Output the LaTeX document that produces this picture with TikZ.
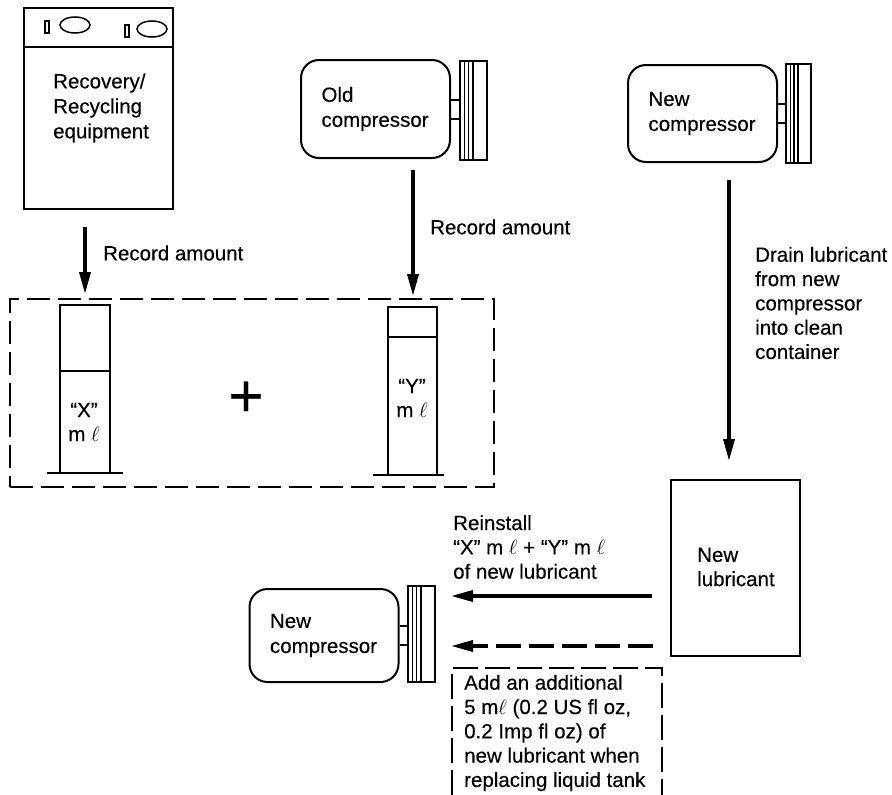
\documentclass[tikz,border=0pt]{standalone}
\usepackage{fontspec}
\setmainfont[FakeBold=0.3]{Liberation Sans}
\usetikzlibrary{arrows.meta,positioning,calc,shapes.geometric}

\begin{document}
\begin{tikzpicture}[
    x=1pt, y=-1pt,
    lbl/.style={anchor=west, align=left, inner sep=0pt, font=\fontsize{20.5}{24.3}\selectfont},
    box/.style={draw, line width=2pt, inner sep=0pt},
    comp/.style={box, rounded corners=18pt, text width=108pt, align=left, minimum width=149pt, font=\fontsize{20.5}{25}\selectfont},
    clutch/.style={box, minimum width=27pt, minimum height=99pt},
    cyl/.style={box, minimum width=50pt, minimum height=168pt},
    dial/.style={draw, line width=1.5pt, ellipse, inner sep=0pt, minimum width=30pt, minimum height=16pt},
    gauge/.style={draw, line width=2pt, inner sep=0pt, minimum width=4pt, minimum height=12pt},
    arr/.style={-{Triangle[length=22pt,width=11pt]}, line width=3.5pt},
    dasharr/.style={arr, dash pattern=on 25pt off 8pt},
    part/.style={draw, line width=1.5pt, dash pattern=on 23pt off 8pt}
]
\useasboundingbox (0,0) rectangle (892,795);
% top row
\node[box, minimum width=149pt, minimum height=201pt] (equip) at (98.5,108.5) {};
\draw[line width=2pt] (equip.west |- 0,47) -- (equip.east |- 0,47);
\node[gauge] (gauge1) at (47,27) {};
\node[dial] (dial1) at (75,25) {};
\node[gauge] (gauge2) at (127,31) {};
\node[dial] (dial2) at (152,29) {};
\node[lbl, font=\fontsize{20.5}{25}\selectfont] (equiptext) at (53,108) {Recovery/\\Recycling\\equipment};
\node[comp, minimum height=98pt] (oldcomp) at (375.5,109) {Old\\compressor};
\node[clutch] (oldclutch) at (473.5,110) {};
\node[comp, minimum height=97pt] (newcomp) at (702.5,113.5) {New\\compressor};
\node[clutch, minimum width=25pt] (newclutch) at (798.5,113.5) {};
% measuring cylinders
\node[part, minimum width=484pt, minimum height=188pt] (group) at (252,393) {};
\node[cyl] (xcyl) at (85,389) {};
\node[cyl, minimum width=49pt] (ycyl) at (412,391) {};
\coordinate (xbase) at (47,473);
\coordinate (ybase) at (373,475);
\draw[line width=2pt] (xbase) -- (123,473);
\draw[line width=2pt] (ybase) -- (444,475);
\draw[line width=2pt] (xcyl.west |- 0,371) -- (xcyl.east |- 0,371);
\draw[line width=2pt] (ycyl.west |- 0,337) -- (ycyl.east |- 0,337);
\node[align=center, inner sep=0pt, font=\fontsize{20.5}{24}\selectfont] (xtext) at (84,422) {“X”\\m $\ell$};
\node[align=center, inner sep=0pt, font=\fontsize{20.5}{24}\selectfont] (ytext) at (412,398) {“Y”\\m $\ell$};
\node[inner sep=0pt, font=\fontsize{60}{60}\selectfont] (plus) at (246,399) {+};
% lubricant and refill
\node[box, minimum width=129pt, minimum height=176pt] (newlub) at (735,568) {};
\node[lbl] (lubtext) at (697,567) {New\\lubricant};
\node[comp, minimum height=93pt] (instcomp) at (324,635.5) {New\\compressor};
\node[clutch, minimum height=96pt] (instclutch) at (421.5,634) {};
\node[lbl] (reinstall) at (453,547) {Reinstall\\“X” m $\ell$ + “Y” m $\ell$\\of new lubricant};
\node[lbl] (note) at (464,733) {Add an additional\\5 m$\ell$ (0.2 US fl oz,\\0.2 Imp fl oz) of\\new lubricant when\\replacing liquid tank};
\draw[line width=2.5pt, dash pattern=on 25pt off 7pt] (452,795) -- (452,668) -- (662,668) -- (662,795);
% clutch stripes and shafts
\foreach \body/\cl in {oldcomp/oldclutch, newcomp/newclutch, instcomp/instclutch} {
    \foreach \f in {.2,.33,.48}
        \draw[line width=1.2pt] ($(\cl.north west)!\f!(\cl.north east)$) -- ($(\cl.south west)!\f!(\cl.south east)$);
    \draw[line width=2pt] ([yshift=9.5pt]\body.east) -- ([yshift=9.5pt]\body.east -| \cl.west);
    \draw[line width=2pt] ([yshift=-9.5pt]\body.east) -- ([yshift=-9.5pt]\body.east -| \cl.west);
}
% arrows
\draw[arr, shorten <=17pt, shorten >=10pt] (equip.south -| xcyl.north) -- (xcyl.north);
\node[lbl] (rec1) at (103,253) {Record amount};
\coordinate (oldstart) at (413,170);
\draw[arr, shorten >=10pt] (oldstart) -- (oldstart |- ycyl.north);
\node[lbl] (rec2) at (430,227) {Record amount};
\coordinate (drainstart) at (729,180);
\draw[arr, shorten >=18pt] (drainstart) -- (drainstart |- newlub.north);
\node[lbl] (drain) at (755,303) {Drain lubricant\\from new\\compressor\\into clean\\container};
\coordinate (upper) at (652,596);
\coordinate (lower) at (653,646);
\draw[arr, shorten >=15pt] (upper) -- (upper -| instclutch.east);
\draw[dasharr, shorten >=15pt] (lower) -- (lower -| instclutch.east);
\end{tikzpicture}
\end{document}
